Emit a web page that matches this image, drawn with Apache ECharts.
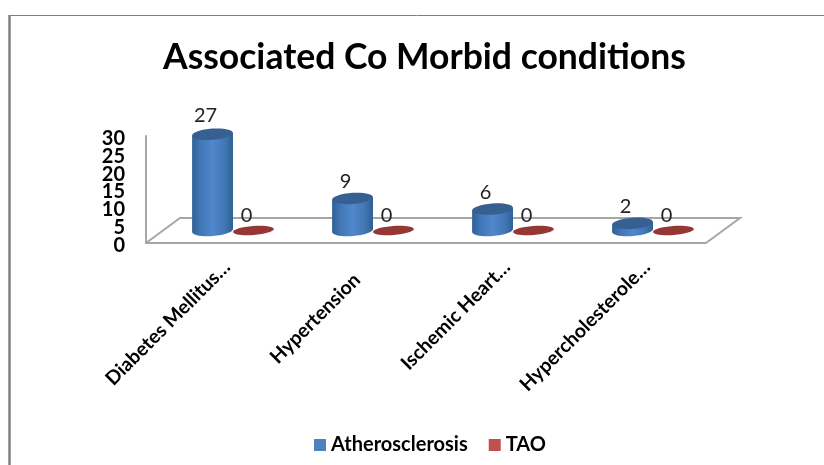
<!DOCTYPE html>
<html><head><meta charset="utf-8">
<style>html,body{margin:0;padding:0;background:#fff}#c{width:824px;height:465px}</style>
<script src="https://cdn.jsdelivr.net/npm/echarts@6/dist/echarts.min.js"></script>
</head><body><div id="c"></div>
<script>
const categories = ['Diabetes Mellitus…', 'Hypertension', 'Ischemic Heart…', 'Hypercholesterole…'];
const atherosclerosis = [27, 9, 6, 2];
const tao = [0, 0, 0, 0];
const yTicks = { min: 0, max: 30, interval: 5 };
const FONT = 'Lato, Carlito, "Open Sans", sans-serif';
const depthX = 34, depthY = 25;

function cylinder(sign, gradientStops, topFill) {
  return function (params, api) {
    const v = api.value(1), i = api.value(0);
    const band = api.size([1, 0])[0];
    const p0 = api.coord([i, 0]), p1 = api.coord([i, v]);
    const cx = p0[0] + depthX / 2 + sign * band * 0.146;
    const rx = band * 0.146;
    const baseY = p0[1] - depthY / 2;
    const topY = p1[1] - depthY / 2;
    const tilt = 0.07;
    const ry = 5.6;
    const children = [];
    const fill = { type: 'linear', x: 0, y: 0, x2: 1, y2: 0, colorStops: gradientStops };
    if (v > 0) {
      children.push({ type: 'ellipse', shape: { cx: cx, cy: baseY, rx: rx, ry: ry }, rotation: tilt, originX: cx, originY: baseY, style: { fill: fill } });
      children.push({ type: 'polygon', shape: { points: [[cx - rx, topY + 1.4], [cx + rx, topY - 1.4], [cx + rx, baseY - 1.4], [cx - rx, baseY + 1.4]] }, style: { fill: fill } });
    }
    children.push({ type: 'ellipse', shape: { cx: cx, cy: topY, rx: rx, ry: v > 0 ? ry : 4.5 }, rotation: tilt, originX: cx, originY: topY, style: { fill: topFill } });
    children.push({ type: 'text', style: { text: String(v), x: cx - 7, y: topY - (v > 10 ? 19 : (v > 0 ? 16.5 : 15)), align: 'center', verticalAlign: 'middle', fill: '#222', font: '20px ' + FONT } });
    return { type: 'group', children: children };
  };
}

function floor(params) {
  const c = params.coordSys;
  const l = c.x, r = c.x + c.width, b = c.y + c.height;
  const st = { stroke: '#a6a6a6', lineWidth: 2, fill: null };
  return { type: 'group', silent: true, children: [
    { type: 'polyline', shape: { points: [[l, b], [l + depthX, b - depthY], [r + depthX, b - depthY], [r, b]] }, style: st }
  ] };
}

const labelFont = { fontFamily: FONT, fontWeight: 'bold', fontSize: 19.5, color: '#000' };
const tickFont = { fontFamily: FONT, fontWeight: 'bold', fontSize: 20, color: '#000' };
const tickLabel = {
  formatter: function (v) { return '{n|' + v + '}'; },
  rich: { n: Object.assign({ height: 11, lineHeight: 11, padding: [5, 0, 0, 0] }, tickFont) }
};
const chart = echarts.init(document.getElementById('c'));
chart.setOption({
  animation: false,
  backgroundColor: '#fff',
  title: { text: 'Associated Co Morbid conditions', left: 158, top: 35,
    textStyle: { fontFamily: FONT, fontWeight: 'bold', fontSize: 35.5, color: '#000' } },
  grid: [
    { left: 146, top: 136, width: 560, height: 107 },
    { left: 157, top: 136, width: 560, height: 107 }
  ],
  legend: { data: ['Atherosclerosis', 'TAO'], left: 309, top: 430, icon: 'rect', itemWidth: 12, itemHeight: 12, itemGap: 21, itemStyle: { borderWidth: 0 },
    textStyle: { fontFamily: FONT, fontWeight: 'bold', fontSize: 20, color: '#000' } },
  xAxis: [
    { type: 'category', gridIndex: 0, data: categories,
      axisLine: { lineStyle: { color: '#a6a6a6', width: 2 } }, axisTick: { show: false }, splitLine: { show: false }, axisLabel: { show: false } },
    { type: 'category', gridIndex: 1, data: categories,
      axisLine: { show: false }, axisTick: { show: false }, splitLine: { show: false },
      axisLabel: Object.assign({ rotate: 45, interval: 0, margin: 21,
        formatter: function (v) { return v.indexOf('…') < 0 ? '{s|' + v + '}' : v; },
        rich: { s: Object.assign({ padding: [4, 16, 0, 0] }, labelFont) } }, labelFont) }
  ],
  yAxis: [
    { type: 'value', gridIndex: 0, min: yTicks.min, max: yTicks.max, interval: yTicks.interval,
      axisLine: { show: true, lineStyle: { color: '#a6a6a6', width: 2 } }, axisTick: { show: false }, splitLine: { show: false },
      axisLabel: Object.assign({ margin: 21, showMinLabel: false, showMaxLabel: false }, tickLabel) },
    { type: 'value', gridIndex: 1, min: yTicks.min, max: yTicks.max, interval: yTicks.max,
      axisLine: { show: false }, axisTick: { show: false }, splitLine: { show: false },
      axisLabel: Object.assign({ margin: 32 }, tickLabel) }
  ],
  series: [
    { type: 'custom', name: 'floor', coordinateSystem: 'cartesian2d', data: [[0, 0]], encode: { x: 0, y: 1 }, renderItem: floor, z: 1 },
    { type: 'custom', name: 'Atherosclerosis', coordinateSystem: 'cartesian2d', itemStyle: { color: '#4f81bd' },
      data: atherosclerosis.map((v, i) => [i, v]), encode: { x: 0, y: 1 }, z: 3,
      renderItem: cylinder(-1, [{ offset: 0, color: '#2f5f94' }, { offset: 0.2, color: '#4277b5' }, { offset: 0.5, color: '#5088cc' }, { offset: 0.8, color: '#4277b5' }, { offset: 1, color: '#2f5f94' }], '#376092') },
    { type: 'custom', name: 'TAO', coordinateSystem: 'cartesian2d', itemStyle: { color: '#c0504d' },
      data: tao.map((v, i) => [i, v]), encode: { x: 0, y: 1 }, z: 3,
      renderItem: cylinder(1, [{ offset: 0, color: '#953735' }, { offset: 1, color: '#953735' }], '#953735') }
  ],
  graphic: [
    { type: 'line', shape: { x1: 9, y1: 15.5, x2: 824, y2: 15.5 }, style: { stroke: '#808080', lineWidth: 1 } },
    { type: 'line', shape: { x1: 9.5, y1: 15, x2: 9.5, y2: 465 }, style: { stroke: '#808080', lineWidth: 2.5 } }
  ]
});
</script></body></html>
